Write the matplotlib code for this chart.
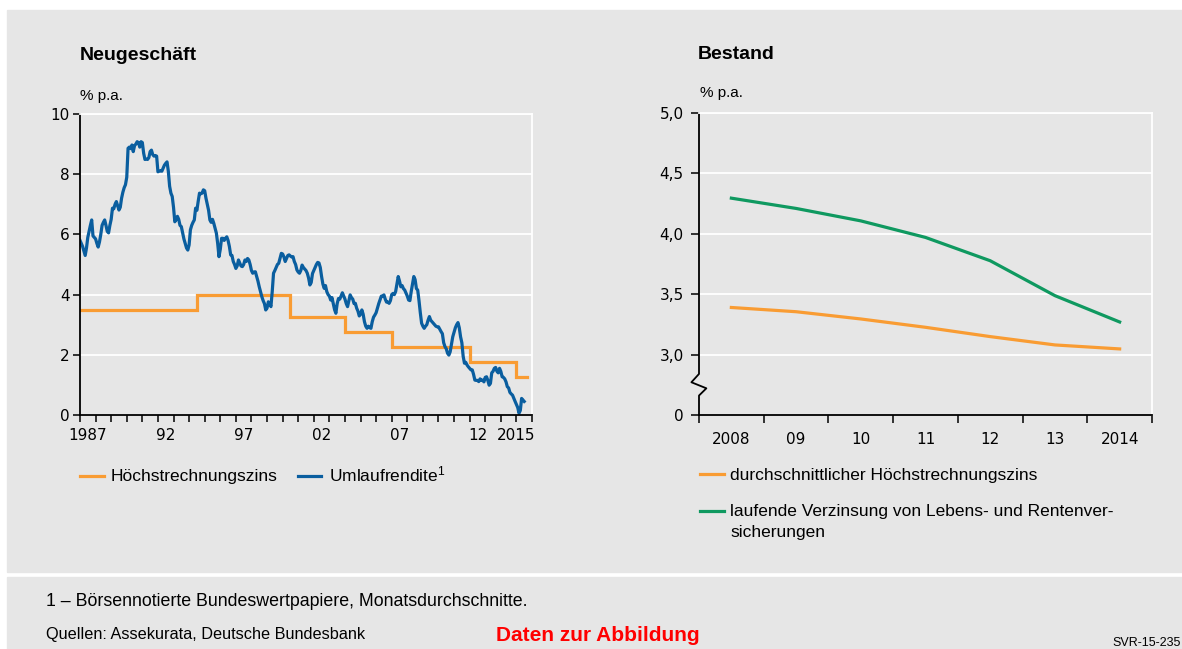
import numpy as np
import matplotlib
matplotlib.use('Agg')
import matplotlib.pyplot as plt
from matplotlib.lines import Line2D
from matplotlib.patches import Rectangle

plt.rcParams['font.family'] = ['Liberation Sans', 'DejaVu Sans']
plt.rcParams['mathtext.fontset'] = 'custom'
plt.rcParams['mathtext.rm'] = 'Liberation Sans'
plt.rcParams['mathtext.default'] = 'regular'

W, H = 1182, 649
BG = '#e6e6e6'
ORANGE = '#f99c33'
BLUE = '#0a5e9f'
GREEN = '#0f9960'

# --- Neugeschäft ---
# Umlaufrendite, monthly averages starting January 1987
umlauf_start = 1987
umlaufrendite = [
    5.8, 5.7, 5.6, 5.45, 5.3, 5.55, 5.9, 6.1, 6.3, 6.48, 5.95, 5.9,      # 1987
    5.85, 5.7, 5.58, 5.75, 6.0, 6.3, 6.4, 6.48, 6.3, 6.1, 6.05, 6.3,     # 1988
    6.5, 6.87, 6.85, 7.0, 7.09, 6.95, 6.81, 6.9, 7.2, 7.4, 7.55, 7.65,   # 1989
    7.9, 8.86, 8.9, 8.85, 8.97, 8.75, 8.95, 9.0, 9.08, 9.05, 8.9, 9.08,  # 1990
    9.05, 8.7, 8.49, 8.5, 8.49, 8.55, 8.75, 8.8, 8.65, 8.6, 8.62, 8.6,   # 1991
    8.08, 8.1, 8.12, 8.1, 8.2, 8.3, 8.36, 8.41, 8.1, 7.6, 7.37, 7.26,    # 1992
    6.9, 6.42, 6.5, 6.6, 6.5, 6.3, 6.26, 6.05, 5.85, 5.7, 5.55, 5.48,    # 1993
    5.65, 6.15, 6.3, 6.4, 6.48, 6.87, 6.8, 7.1, 7.37, 7.35, 7.37, 7.48,  # 1994
    7.45, 7.2, 7.0, 6.8, 6.48, 6.4, 6.5, 6.37, 6.2, 6.04, 5.7, 5.26,     # 1995
    5.5, 5.87, 5.87, 5.8, 5.87, 5.92, 5.8, 5.6, 5.32, 5.3, 5.1, 5.0,     # 1996
    4.87, 4.95, 5.15, 5.05, 4.95, 4.93, 5.0, 5.15, 5.1, 5.2, 5.15, 5.0,  # 1997
    4.8, 4.71, 4.75, 4.76, 4.6, 4.45, 4.26, 4.1, 3.93, 3.8, 3.7, 3.49,   # 1998
    3.55, 3.76, 3.7, 3.6, 4.1, 4.71, 4.8, 4.9, 5.0, 5.04, 5.2, 5.37,     # 1999
    5.35, 5.25, 5.1, 5.2, 5.3, 5.32, 5.28, 5.25, 5.26, 5.1, 5.0, 4.82,   # 2000
    4.75, 4.71, 4.8, 4.98, 4.9, 4.85, 4.8, 4.71, 4.55, 4.32, 4.4, 4.7,   # 2001
    4.8, 4.9, 5.0, 5.07, 5.05, 4.9, 4.6, 4.35, 4.21, 4.3, 4.1, 4.0,      # 2002
    3.95, 3.82, 3.9, 3.7, 3.5, 3.38, 3.7, 3.87, 3.85, 3.95, 4.06, 3.95,  # 2003
    3.85, 3.7, 3.6, 3.8, 3.99, 3.9, 3.85, 3.7, 3.71, 3.55, 3.45, 3.29,   # 2004
    3.35, 3.49, 3.35, 3.1, 2.95, 2.88, 2.95, 2.9, 2.88, 3.1, 3.25, 3.32, # 2005
    3.4, 3.55, 3.7, 3.82, 3.95, 3.95, 3.99, 3.85, 3.75, 3.75, 3.71, 3.8, # 2006
    4.0, 4.04, 4.0, 4.1, 4.35, 4.6, 4.45, 4.26, 4.3, 4.2, 4.15, 4.05,    # 2007
    3.95, 3.82, 3.8, 4.1, 4.35, 4.6, 4.5, 4.2, 4.15, 3.8, 3.4, 3.05,     # 2008
    2.95, 2.88, 2.95, 3.0, 3.15, 3.27, 3.15, 3.1, 3.05, 3.0, 2.95, 2.93, # 2009
    2.93, 2.85, 2.77, 2.7, 2.4, 2.27, 2.2, 2.05, 1.99, 2.1, 2.35, 2.6,   # 2010
    2.75, 2.9, 3.0, 3.07, 2.9, 2.6, 2.4, 1.95, 1.72, 1.75, 1.66, 1.6,    # 2011
    1.55, 1.5, 1.5, 1.35, 1.16, 1.15, 1.15, 1.11, 1.2, 1.15, 1.16, 1.1,  # 2012
    1.25, 1.27, 1.15, 0.99, 1.05, 1.4, 1.45, 1.55, 1.58, 1.45, 1.4, 1.55,  # 2013
    1.45, 1.27, 1.25, 1.2, 1.1, 0.94, 0.9, 0.75, 0.7, 0.66, 0.55, 0.45,  # 2014
    0.35, 0.25, 0.06, 0.15, 0.55, 0.5, 0.45,                             # 2015
]
# Höchstrechnungszins: valid from, rate
hrz_from = [1987.0, 1994.5, 2000.5, 2004.0, 2007.0, 2012.0, 2015.0]
hrz_rate = [3.5, 4.0, 3.25, 2.75, 2.25, 1.75, 1.25]
hrz_end = 2015.7
left_labels = ['1987', '92', '97', '02', '07', '12', '2015']
left_label_pos = [1987.5, 1992.5, 1997.5, 2002.5, 2007.5, 2012.5, 2015.0]

# --- Bestand ---
bestand_years = ['2008', '09', '10', '11', '12', '13', '2014']
bestand_hrz = [3.39, 3.355, 3.295, 3.226, 3.149, 3.08, 3.047]
bestand_verz = [4.295, 4.21, 4.107, 3.97, 3.777, 3.488, 3.27]
right_yticks = [2.5, 3.0, 3.5, 4.0, 4.5, 5.0]
right_ylabels = ['0', '3,0', '3,5', '4,0', '4,5', '5,0']


def fx(x):
    return x / W


def fy(y):
    return 1 - y / H


fig = plt.figure(figsize=(W / 100, H / 100), dpi=100)
fig.patch.set_facecolor('white')
fig.add_artist(Rectangle((fx(7), fy(572)), fx(W - 7), (572 - 10) / H,
                         transform=fig.transFigure, color=BG, zorder=-10))
fig.add_artist(Rectangle((fx(7), 0), fx(W - 7), (H - 577) / H,
                         transform=fig.transFigure, color=BG, zorder=-10))


def style_axes(ax):
    ax.set_facecolor(BG)
    ax.set_axisbelow(True)
    ax.grid(axis='y', color='white', lw=1.3)
    ax.spines['top'].set_color('white')
    ax.spines['right'].set_color('white')
    for s in ax.spines.values():
        s.set_linewidth(1.3)
    for lab in ax.get_xticklabels(which='both') + ax.get_yticklabels():
        lab.set_fontfamily('DejaVu Sans')
        lab.set_fontsize(11)


# ---------- left chart ----------
ax1 = fig.add_axes([fx(80), fy(415), (532 - 80) / W, (415 - 114) / H])
x_uml = umlauf_start + np.arange(len(umlaufrendite)) / 12
hx = hrz_from + [hrz_end]
hy = hrz_rate + [hrz_rate[-1]]
ax1.step(hx, hy, where='post', color=ORANGE, lw=2.3, solid_joinstyle='miter')
ax1.plot(x_uml, umlaufrendite, color=BLUE, lw=2.3)
ax1.set_xlim(1987, 2016)
ax1.set_ylim(0, 10)
ax1.set_yticks([0, 2, 4, 6, 8, 10])
ax1.xaxis.remove_overlapping_locs = False
ax1.set_xticks(np.arange(1987, 2017))
ax1.set_xticklabels([])
ax1.set_xticks(left_label_pos, minor=True)
ax1.set_xticklabels(left_labels, minor=True)
ax1.tick_params(axis='x', which='major', length=5, width=1.1, direction='out')
ax1.tick_params(axis='x', which='minor', length=0, pad=9)
ax1.tick_params(axis='y', length=5, width=1.1, pad=2.5)
style_axes(ax1)

fig.text(fx(80), fy(60), 'Neugeschäft', fontsize=14, fontweight='bold', va='baseline')
fig.text(fx(80), fy(100), '% p.a.', fontsize=11, va='baseline')

# left legend
fig.add_artist(Line2D([fx(80), fx(104)], [fy(476)] * 2, color=ORANGE, lw=2.3,
                      transform=fig.transFigure))
fig.text(fx(111), fy(481), 'Höchstrechnungszins', fontsize=12.5, va='baseline')
fig.add_artist(Line2D([fx(298), fx(321)], [fy(476)] * 2, color=BLUE, lw=2.3,
                      transform=fig.transFigure))
fig.text(fx(329), fy(481), 'Umlaufrendite$^{1}$', fontsize=12.5, va='baseline')

# ---------- right chart ----------
ax2 = fig.add_axes([fx(699), fy(415), (1152 - 699) / W, (415 - 113) / H])
cats = np.arange(len(bestand_years))
ax2.plot(cats, bestand_hrz, color=ORANGE, lw=2.3)
ax2.plot(cats, bestand_verz, color=GREEN, lw=2.3)
ax2.set_xlim(-0.5, len(cats) - 0.5)
ax2.set_ylim(2.5, 5.0)
ax2.set_yticks(right_yticks)
ax2.set_yticklabels(right_ylabels)
ax2.set_xticks(cats)
ax2.set_xticklabels(bestand_years)
ax2.set_xticks(np.arange(-0.5, len(cats)), minor=True)
ax2.tick_params(axis='x', which='major', length=0, pad=12.5)
ax2.tick_params(axis='x', which='minor', length=6, width=1.1)
ax2.tick_params(axis='y', length=6, width=1.1, pad=5)
style_axes(ax2)
ax2.yaxis.get_gridlines()[0].set_visible(False)
ax2.spines['left'].set_visible(False)
# left spine with axis break
brk_x = [0, 0, -0.0168, 0.0163, 0, 0]
brk_y = [5.0, 2.84, 2.771, 2.721, 2.661, 2.5]
ax2.add_line(Line2D(brk_x, brk_y, color='black', lw=1.3,
                    transform=ax2.get_yaxis_transform(), clip_on=False))

fig.text(fx(698), fy(59), 'Bestand', fontsize=14, fontweight='bold', va='baseline')
fig.text(fx(700), fy(97), '% p.a.', fontsize=11, va='baseline')

# right legend
fig.add_artist(Line2D([fx(700), fx(724)], [fy(474)] * 2, color=ORANGE, lw=2.3,
                      transform=fig.transFigure))
fig.text(fx(730), fy(480), 'durchschnittlicher Höchstrechnungszins', fontsize=12.5,
         va='baseline')
fig.add_artist(Line2D([fx(700), fx(724)], [fy(511)] * 2, color=GREEN, lw=2.3,
                      transform=fig.transFigure))
fig.text(fx(730), fy(516), 'laufende Verzinsung von Lebens- und Rentenver-',
         fontsize=12.5, va='baseline')
fig.text(fx(730), fy(537), 'sicherungen', fontsize=12.5, va='baseline')

# ---------- footer ----------
fig.text(fx(46), fy(606), '1 – Börsennotierte Bundeswertpapiere, Monatsdurchschnitte.',
         fontsize=12.8, va='baseline')
fig.text(fx(46), fy(639), 'Quellen: Assekurata, Deutsche Bundesbank',
         fontsize=11.7, va='baseline')
fig.text(fx(496), fy(641), 'Daten zur Abbildung', fontsize=15, fontweight='bold',
         color='#ff0000', va='baseline')
fig.text(fx(1181), fy(646), 'SVR-15-235', fontsize=9, ha='right', va='baseline')

fig.savefig('out.png', dpi=100, facecolor=fig.get_facecolor())
